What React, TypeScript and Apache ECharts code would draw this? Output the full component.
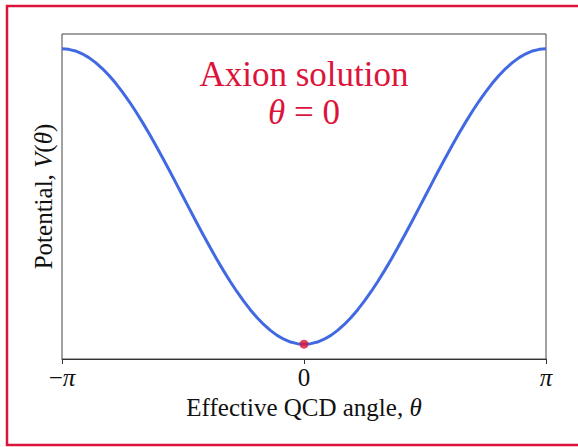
import React, { useEffect, useRef } from "react";
import * as echarts from "echarts";

// Effective QCD angle, in degrees (−180° = −π, 180° = π)
const thetaDeg = [
  -180, -175, -170, -165, -160, -155, -150, -145, -140, -135, -130, -125, -120, -115, -110, -105, -100, -95,
  -90, -85, -80, -75, -70, -65, -60, -55, -50, -45, -40, -35, -30, -25, -20, -15, -10, -5,
  0, 5, 10, 15, 20, 25, 30, 35, 40, 45, 50, 55, 60, 65, 70, 75, 80, 85,
  90, 95, 100, 105, 110, 115, 120, 125, 130, 135, 140, 145, 150, 155, 160, 165, 170, 175, 180,
];
// Potential V(θ)
const potential = [
  2.0, 1.996, 1.985, 1.966, 1.94, 1.906, 1.866, 1.819, 1.766, 1.707, 1.643, 1.574, 1.5, 1.423, 1.342, 1.259, 1.174, 1.087,
  1.0, 0.913, 0.826, 0.741, 0.658, 0.577, 0.5, 0.426, 0.357, 0.293, 0.234, 0.181, 0.134, 0.094, 0.06, 0.034, 0.015, 0.004,
  0.0, 0.004, 0.015, 0.034, 0.06, 0.094, 0.134, 0.181, 0.234, 0.293, 0.357, 0.426, 0.5, 0.577, 0.658, 0.741, 0.826, 0.913,
  1.0, 1.087, 1.174, 1.259, 1.342, 1.423, 1.5, 1.574, 1.643, 1.707, 1.766, 1.819, 1.866, 1.906, 1.94, 1.966, 1.985, 1.996, 2.0,
];
const minimumPoint = [[0, 0]];
const xTickValues = [-180, 0, 180];
const xTickLabels = ["−{i|π}", "0", "{i|π}"];
const titleText = "Axion solution\n{i|θ} = 0";
const xName = "Effective QCD angle, {i|θ}";
const yName = "Potential, {i|V}({i|θ})";

const SERIF = '"Liberation Serif", "DejaVu Serif", serif';
const CRIMSON = "#DC143C";
const BLUE = "#4169E1";
const INK = "#111";

export default function App() {
  const ref = useRef<HTMLDivElement>(null);
  useEffect(() => {
    if (!ref.current) return;
    const chart = echarts.init(ref.current, null, { renderer: "svg" });
    const lineData = thetaDeg.map((t, i) => [t, potential[i]]);
    const italic = (size: number, color: string) => ({
      i: { fontStyle: "italic", fontFamily: SERIF, fontSize: size, color },
    });
    chart.setOption({
      animation: false,
      backgroundColor: "#ffffff",
      grid: {
        left: 62,
        right: 32,
        top: 34,
        bottom: 88,
        show: true,
        borderColor: "#444",
        borderWidth: 1,
        backgroundColor: "transparent",
      },
      xAxis: {
        type: "value",
        min: -180,
        max: 180,
        interval: 180,
        axisLine: { show: true, onZero: false, lineStyle: { color: "#333", width: 1 } },
        axisTick: { show: true, length: 5, lineStyle: { color: "#333", width: 1 } },
        splitLine: { show: false },
        axisLabel: {
          show: true,
          margin: 6,
          showMinLabel: true,
          showMaxLabel: true,
          fontFamily: SERIF,
          fontSize: 25,
          color: INK,
          formatter: (v: number) => {
            const idx = xTickValues.indexOf(v);
            return idx >= 0 ? xTickLabels[idx] : "";
          },
          rich: italic(25, INK),
        },
        name: xName,
        nameLocation: "middle",
        nameGap: 31,
        nameTextStyle: {
          fontFamily: SERIF,
          fontSize: 25,
          color: INK,
          rich: italic(25, INK),
        },
      },
      yAxis: {
        type: "value",
        min: -0.1,
        max: 2.1,
        axisLine: { show: false },
        axisTick: { show: false },
        axisLabel: { show: false },
        splitLine: { show: false },
        name: yName,
        nameLocation: "middle",
        nameGap: 6,
        nameRotate: 90,
        nameTextStyle: {
          fontFamily: SERIF,
          fontSize: 25,
          color: INK,
          rich: italic(25, INK),
        },
      },
      series: [
        {
          type: "line",
          data: lineData,
          smooth: false,
          showSymbol: false,
          lineStyle: { color: BLUE, width: 3 },
          z: 2,
        },
        {
          type: "scatter",
          data: minimumPoint,
          symbolSize: 9,
          itemStyle: { color: CRIMSON },
          z: 3,
        },
      ],
      graphic: [
        {
          type: "rect",
          shape: { x: 7, y: 6, width: 590, height: 439 },
          style: { fill: "none", stroke: CRIMSON, lineWidth: 2.5 },
          silent: true,
        },
        {
          type: "text",
          x: 304,
          y: 93,
          style: {
            text: titleText,
            fill: CRIMSON,
            fontFamily: SERIF,
            fontSize: 35,
            lineHeight: 38,
            align: "center",
            verticalAlign: "middle",
            rich: {
              i: { fontStyle: "italic", fontFamily: SERIF, fontSize: 35, lineHeight: 38, fill: CRIMSON },
            },
          },
        },
      ],
    });
    return () => chart.dispose();
  }, []);
  return (
    <div
      ref={ref}
      style={{ position: "fixed", left: 0, top: 0, width: 578, height: 447, background: "#fff" }}
    />
  );
}
